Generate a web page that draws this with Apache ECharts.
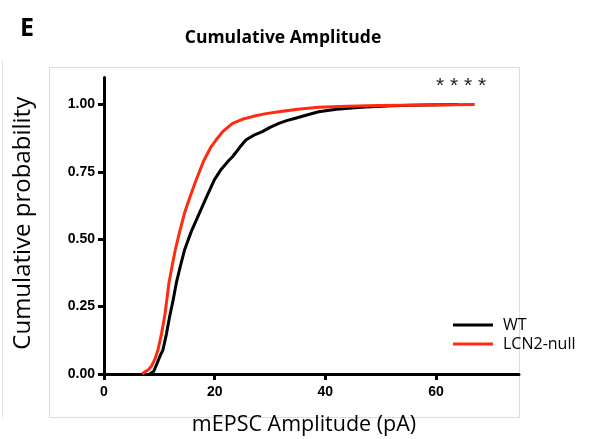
<!DOCTYPE html>
<html>
<head>
<meta charset="utf-8">
<script src="https://cdn.jsdelivr.net/npm/echarts@6/dist/echarts.min.js"></script>
<style>
  html, body { margin: 0; padding: 0; background: #fff; }
  #chart { width: 595px; height: 439px; }
</style>
</head>
<body>
<div id="chart"></div>
<script>
// cumulative distributions (amplitude in pA, probability)
const wtAmp = [8.3, 9.0, 9.6, 10.2, 10.65, 11.3, 11.86, 12.5, 13.06, 13.8, 14.55, 15.8, 17.24, 18.6, 19.94, 21.2, 22.63, 23.23, 24.5, 25.63, 27.0, 28.62, 30.0, 31.6, 33.0, 34.6, 36.5, 38.8, 42.0, 46.5, 52, 58, 64]
const wtProb = [0, 0.01, 0.04, 0.07, 0.089, 0.15, 0.213, 0.275, 0.337, 0.40, 0.46, 0.53, 0.597, 0.66, 0.72, 0.76, 0.794, 0.806, 0.84, 0.868, 0.885, 0.899, 0.915, 0.930, 0.940, 0.949, 0.96, 0.973, 0.982, 0.99, 0.995, 0.998, 1.0]
const nullAmp = [6.9, 7.5, 8.0, 8.6, 9.2, 9.75, 10.4, 10.96, 11.35, 11.73, 12.3, 12.88, 13.7, 14.55, 15.6, 16.65, 18.0, 19.35, 20.24, 21.5, 23.23, 25.0, 26.82, 29.0, 31.6, 35.0, 38.8, 44, 49.6, 58, 67]
const nullProb = [0, 0.01, 0.015, 0.03, 0.055, 0.089, 0.15, 0.213, 0.275, 0.337, 0.40, 0.46, 0.53, 0.597, 0.66, 0.72, 0.79, 0.843, 0.868, 0.90, 0.930, 0.945, 0.955, 0.965, 0.973, 0.982, 0.99, 0.993, 0.996, 0.998, 1.0]

const xTicks = [0, 20, 40, 60]
const yTicks = [0, 0.25, 0.5, 0.75, 1]
const seriesNames = ['WT', 'LCN2-null']

const zip = (xs, ys) => xs.map((x, i) => [x, ys[i]])

const chart = echarts.init(document.getElementById('chart'))

const labelFont = { color: '#000', fontFamily: 'Liberation Sans', fontWeight: 'bold', fontSize: 14 }

chart.setOption({
  backgroundColor: '#ffffff',
  animation: false,
  title: [
    {
      text: 'Cumulative Amplitude',
      left: 278,
      top: 24,
      textAlign: 'center',
      textStyle: { fontFamily: 'Open Sans', fontWeight: 'bold', fontSize: 17.5, color: '#000' }
    },
    {
      text: 'E',
      left: 15,
      top: 11,
      textStyle: { fontFamily: 'Open Sans', fontWeight: 'bold', fontSize: 25, color: '#000' }
    },
    {
      text: '* * * *',
      left: 431,
      top: 71,
      textStyle: { fontFamily: 'Liberation Sans', fontWeight: 'normal', fontSize: 21, color: '#222' }
    }
  ],
  graphic: [
    // light frame around the panel
    { type: 'rect', shape: { x: 49.5, y: 67.5, width: 470, height: 350 }, style: { fill: 'none', stroke: '#dcdcdc', lineWidth: 1 } },
    { type: 'line', shape: { x1: 2.5, y1: 60, x2: 2.5, y2: 418 }, style: { stroke: '#e6e6e6', lineWidth: 1 } }
  ],
  legend: {
    orient: 'vertical',
    left: 448,
    top: 312,
    icon: 'rect',
    itemWidth: 40,
    itemHeight: 3,
    itemGap: 3,
    data: seriesNames,
    textStyle: { fontFamily: 'Open Sans', fontSize: 16, color: '#000', padding: [0, 0, 0, 5] }
  },
  grid: {
    left: 104,
    right: 76,
    top: 77.5,
    bottom: 65,
    outerBoundsMode: 'none'
  },
  xAxis: {
    type: 'value',
    min: 0,
    max: 75,
    interval: 20,
    name: 'mEPSC Amplitude (pA)',
    nameLocation: 'middle',
    nameGap: 40,
    nameTextStyle: { fontFamily: 'Open Sans', fontSize: 21.5, color: '#000', padding: [0, 15, 0, 0] },
    axisLine: { lineStyle: { color: '#000', width: 3 } },
    axisTick: { length: 6, lineStyle: { color: '#000', width: 3 }, customValues: xTicks },
    axisLabel: Object.assign({ margin: 11, customValues: xTicks }, labelFont),
    splitLine: { show: false }
  },
  yAxis: {
    type: 'value',
    min: 0,
    max: 1.1,
    interval: 0.25,
    name: 'Cumulative probability',
    nameLocation: 'middle',
    nameGap: 69,
    nameTextStyle: { fontFamily: 'Open Sans', fontSize: 24, color: '#000', padding: [0, 0, 0, 5] },
    axisLine: { show: true, lineStyle: { color: '#000', width: 3 } },
    axisTick: { show: true, length: 6, lineStyle: { color: '#000', width: 3 }, customValues: yTicks },
    axisLabel: Object.assign({ margin: 9, customValues: yTicks, formatter: v => v.toFixed(2) }, labelFont),
    splitLine: { show: false }
  },
  series: [
    {
      name: seriesNames[0],
      type: 'line',
      data: zip(wtAmp, wtProb),
      symbol: 'none',
      lineStyle: { color: '#000', width: 3 },
      itemStyle: { color: '#000' }
    },
    {
      name: seriesNames[1],
      type: 'line',
      data: zip(nullAmp, nullProb),
      symbol: 'none',
      lineStyle: { color: '#ff2a10', width: 3 },
      itemStyle: { color: '#ff2a10' }
    }
  ]
})
</script>
</body>
</html>
